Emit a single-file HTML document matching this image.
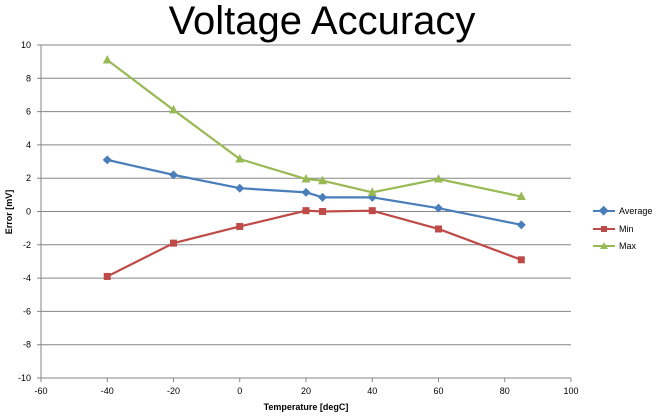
<!DOCTYPE html><html><head><style>body{margin:0;background:#fff}svg{display:block;font-family:"Liberation Sans",sans-serif}</style></head><body>
<svg id="s" width="656" height="416" xmlns="http://www.w3.org/2000/svg">
<text x="322" y="34" font-size="40" text-anchor="middle" fill="#000">Voltage Accuracy</text>
<g id="g"></g>
<text x="306" y="410" font-size="9" font-weight="bold" text-anchor="middle">Temperature [degC]</text>
<text transform="translate(12,212) rotate(-90)" font-size="9" font-weight="bold" text-anchor="middle">Error [mV]</text>
<line x1="593" y1="211" x2="615" y2="211" stroke="#4a7ebb" stroke-width="2"/><rect x="600" y="207.5" width="7" height="7" fill="#4a7ebb" transform="rotate(45 604 211)"/><text x="619" y="214" font-size="9">Average</text>
<line x1="593" y1="229" x2="615" y2="229" stroke="#be4b48" stroke-width="2"/><rect x="601" y="226" width="6" height="6" fill="#be4b48"/><text x="619" y="232" font-size="9">Min</text>
<line x1="593" y1="246" x2="615" y2="246" stroke="#98b954" stroke-width="2"/><polygon points="604,242 608,249 600,249" fill="#98b954"/><text x="619" y="249" font-size="9">Max</text>
</svg>
<script>
var g=document.getElementById('g'),h='';
function X(t){return 41+(t+60)*3.3125}function Y(v){return 211.5-v*16.65}
for(var v=-10;v<=10;v+=2){var y=Y(v);h+='<line x1="37" x2="571" y1="'+y+'" y2="'+y+'" stroke="#868686" stroke-width="1"/>';h+='<text x="31" y="'+(y+3)+'" font-size="9" text-anchor="end">'+v+'</text>';}
h+='<line x1="41" x2="41" y1="45" y2="382" stroke="#868686"/>';
for(var t=-60;t<=100;t+=20){var x=X(t);h+='<line x1="'+x+'" x2="'+x+'" y1="378" y2="382" stroke="#868686"/><text x="'+x+'" y="394" font-size="9" text-anchor="middle">'+t+'</text>';}
var T=[-40,-20,0,20,25,40,60,85];
var S=[[[3.1,2.2,1.4,1.15,0.85,0.85,0.2,-0.8],'#4a7ebb','d'],[[-3.9,-1.9,-0.9,0.05,0.0,0.05,-1.05,-2.9],'#be4b48','s'],[[9.1,6.1,3.15,1.95,1.85,1.15,1.95,0.9],'#98b954','t']];
S.forEach(function(s){var p=T.map(function(t,i){return X(t)+','+Y(s[0][i])}).join(' ');h+='<polyline points="'+p+'" fill="none" stroke="'+s[1]+'" stroke-width="2.2"/>';
T.forEach(function(t,i){var x=X(t),y=Y(s[0][i]);if(s[2]=='d')h+='<polygon points="'+x+','+(y-4.5)+' '+(x+4.5)+','+y+' '+x+','+(y+4.5)+' '+(x-4.5)+','+y+'" fill="'+s[1]+'"/>';else if(s[2]=='s')h+='<rect x="'+(x-3.5)+'" y="'+(y-3.5)+'" width="7" height="7" fill="'+s[1]+'"/>';else h+='<polygon points="'+x+','+(y-5)+' '+(x+4.5)+','+(y+3.5)+' '+(x-4.5)+','+(y+3.5)+'" fill="'+s[1]+'"/>';});});
g.innerHTML=h;
</script>
</body></html>
